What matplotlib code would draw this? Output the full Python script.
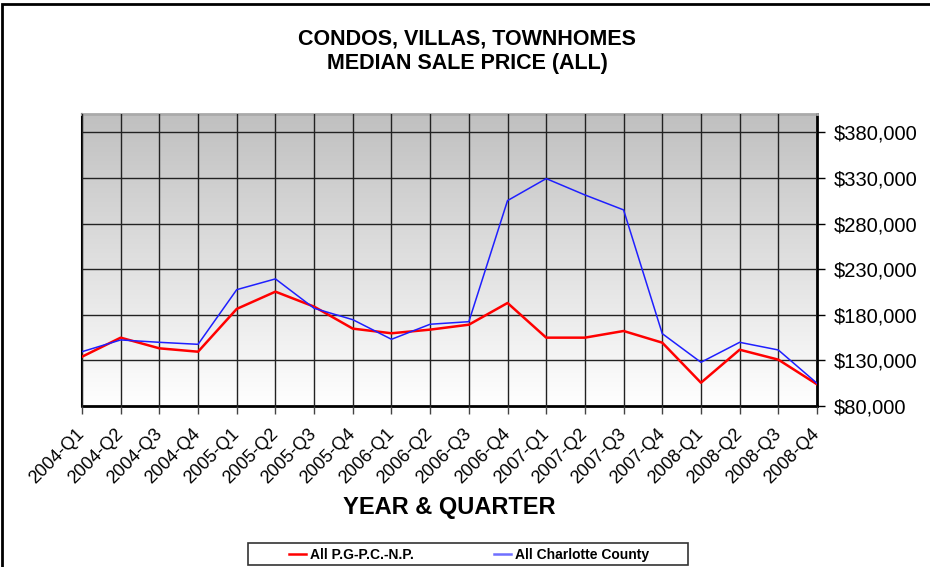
import numpy as np
import matplotlib
matplotlib.use("Agg")
import matplotlib.pyplot as plt
from matplotlib.patches import Rectangle
from matplotlib.lines import Line2D
from matplotlib.ticker import FuncFormatter
from matplotlib.transforms import ScaledTranslation

quarters = ["2004-Q1", "2004-Q2", "2004-Q3", "2004-Q4",
            "2005-Q1", "2005-Q2", "2005-Q3", "2005-Q4",
            "2006-Q1", "2006-Q2", "2006-Q3", "2006-Q4",
            "2007-Q1", "2007-Q2", "2007-Q3", "2007-Q4",
            "2008-Q1", "2008-Q2", "2008-Q3", "2008-Q4"]
pgpc = [134000, 154900, 143200, 139500, 186400, 205300, 188900, 164800,
        159700, 163700, 169100, 192900, 154900, 154900, 162200, 149400,
        105500, 141700, 130800, 103800]
charlotte = [139500, 152400, 149800, 147600, 207500, 219300, 187100, 174600,
             153100, 169600, 172400, 305100, 329200, 311300, 294900, 159300,
             127900, 149800, 141400, 104900]
yticks = [80000, 130000, 180000, 230000, 280000, 330000, 380000]

plt.rcParams['font.family'] = ['Liberation Sans', 'DejaVu Sans']

W, H = 930, 567
fig = plt.figure(figsize=(W / 100, H / 100), dpi=100)
ax = fig.add_axes([82 / W, 1 - 406 / H, (817 - 82) / W, (406 - 114) / H])

x = np.arange(len(quarters))
ymin, ymax = 80000, 400000
ax.set_xlim(0, len(quarters) - 1)
ax.set_ylim(ymin, ymax)

# gradient background: gray at top, white at bottom
grad = np.linspace(0, 1, 256).reshape(-1, 1)
ax.imshow(grad, extent=[0, len(quarters) - 1, ymin, ymax], aspect='auto',
          cmap=matplotlib.colors.LinearSegmentedColormap.from_list("g", ["#ffffff", "#c0c0c0"]),
          origin='lower', zorder=0)

ax.plot(x, pgpc, color='#ff0000', lw=1.8, zorder=3)
ax.plot(x, charlotte, color='#1f1fff', lw=1.1, zorder=3)

ax.set_xticks(x)
ax.set_xticklabels(quarters, rotation=45, ha='right', va='center',
                   rotation_mode='anchor', fontsize=13)
shift = ScaledTranslation(-5 / 100, 0, fig.dpi_scale_trans)
for lbl in ax.get_xticklabels():
    lbl.set_transform(lbl.get_transform() + shift)
ax.set_yticks(yticks)
ax.yaxis.set_major_formatter(FuncFormatter(lambda v, p: "${:,.0f}".format(v)))
ax.yaxis.tick_right()
ax.tick_params(axis='y', labelsize=14.5, length=6, width=1, pad=6, direction='out')
ax.tick_params(axis='x', length=6, width=1, pad=12, colors='#444444', labelcolor='black')
ax.grid(True, color='#222222', lw=1)
ax.set_axisbelow(False)
for s in ['bottom', 'right']:
    ax.spines[s].set_linewidth(2)
ax.spines['left'].set_linewidth(1.5)
ax.spines['top'].set_color('#aaaaaa')
ax.spines['top'].set_linewidth(2)

ax.set_xlabel("YEAR & QUARTER", fontsize=17, fontweight='bold', labelpad=7)
fig.text(467 / W, 1 - 51 / H, "CONDOS, VILLAS, TOWNHOMES\nMEDIAN SALE PRICE (ALL)",
         ha='center', va='center', fontsize=15.5, fontweight='bold', linespacing=1.25)

# outer chart border
fig.add_artist(Rectangle((1.5 / W, -0.1), 1.2, 1 - 4 / H + 0.1, transform=fig.transFigure,
                         fill=False, edgecolor='black', lw=2))

# legend box
fig.add_artist(Rectangle((248 / W, 1 - 565 / H), 440 / W, 22 / H, transform=fig.transFigure,
                         facecolor='white', edgecolor='#333333', lw=1.2))
handles = [Line2D([], [], color='#ff0000', lw=1.8), Line2D([], [], color='#6f6fff', lw=1.8)]
fig.legend(handles, ["All P.G-P.C.-N.P.", "All Charlotte County"], ncol=2,
           loc='center', bbox_to_anchor=(469 / W, 1 - 555 / H), frameon=False,
           prop={'weight': 'bold', 'size': 10}, handlelength=1.2, handletextpad=0.3,
           columnspacing=5.8)

fig.savefig("out.png", dpi=100)
